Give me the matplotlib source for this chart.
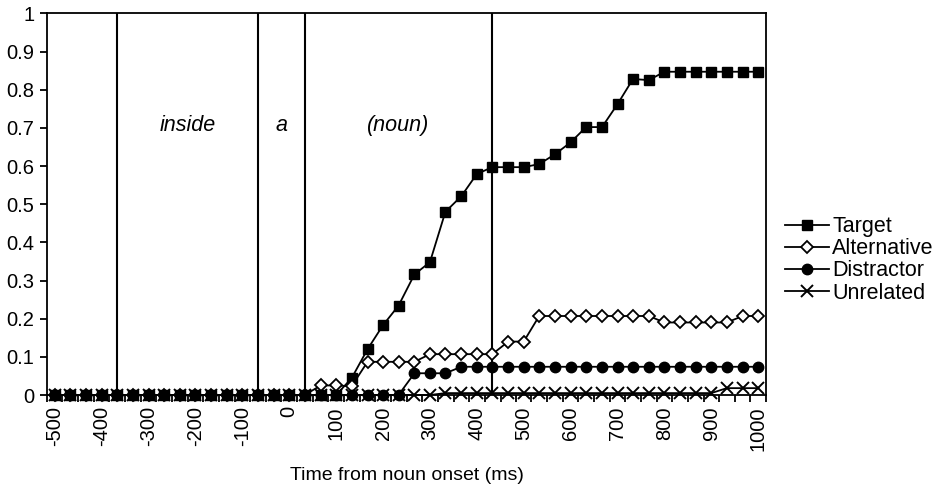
import matplotlib
matplotlib.use("Agg")
import matplotlib.pyplot as plt
import numpy as np

plt.rcParams['font.family'] = ['Liberation Sans', 'DejaVu Sans']

# %%
# time bins (ms from noun onset)
times = [-500, -467, -433, -400, -367, -333, -300, -267, -233, -200,
         -167, -133, -100, -67, -33, 0, 33, 67, 100, 133,
         167, 200, 233, 267, 300, 333, 367, 400, 433, 467,
         500, 533, 567, 600, 633, 667, 700, 733, 767, 800,
         833, 867, 900, 933, 967, 1000]

target = [0, 0, 0, 0, 0, 0, 0, 0, 0, 0,
          0, 0, 0, 0, 0, 0, 0, 0, 0, 0.044,
          0.12, 0.183, 0.234, 0.316, 0.348, 0.48, 0.521, 0.579, 0.597, 0.597,
          0.597, 0.605, 0.631, 0.662, 0.702, 0.702, 0.762, 0.828, 0.825, 0.847,
          0.847, 0.847, 0.847, 0.847, 0.847, 0.847]

alternative = [0, 0, 0, 0, 0, 0, 0, 0, 0, 0,
               0, 0, 0, 0, 0, 0, 0, 0.025, 0.025, 0.023,
               0.087, 0.087, 0.087, 0.087, 0.107, 0.107, 0.107, 0.107, 0.107, 0.14,
               0.14, 0.207, 0.207, 0.207, 0.207, 0.207, 0.207, 0.207, 0.207, 0.19,
               0.19, 0.19, 0.19, 0.19, 0.207, 0.207]

distractor = [0, 0, 0, 0, 0, 0, 0, 0, 0, 0,
              0, 0, 0, 0, 0, 0, 0, 0, 0, 0,
              0, 0, 0, 0.057, 0.057, 0.057, 0.074, 0.074, 0.074, 0.074,
              0.074, 0.074, 0.074, 0.074, 0.074, 0.074, 0.074, 0.074, 0.074, 0.074,
              0.074, 0.074, 0.074, 0.074, 0.074, 0.074]

unrelated = [0, 0, 0, 0, 0, 0, 0, 0, 0, 0,
             0, 0, 0, 0, 0, 0, 0, 0, 0, 0,
             0, 0, 0, 0, 0, 0.005, 0.005, 0.005, 0.005, 0.005,
             0.005, 0.005, 0.005, 0.005, 0.005, 0.005, 0.005, 0.005, 0.005, 0.005,
             0.005, 0.005, 0.005, 0.018, 0.018, 0.018]

# word boundaries and labels
word_bounds = [-367, -67, 33, 433]
words = ["inside", "a", "(noun)"]

xtick_vals = [-500, -400, -300, -200, -100, 0, 100, 200, 300, 400,
              500, 600, 700, 800, 900, 1000]

# %%
fig = plt.figure(figsize=(9.42, 4.96), dpi=100)
ax = fig.add_axes([0.0499, 0.2036, 0.7632, 0.7695])

step = times[1] - times[0]
ax.set_xlim(times[0] - step / 2, times[-1] + step / 2)
ax.set_ylim(0, 1)

for xb in word_bounds:
    ax.axvline(xb, color="black", lw=1.5, zorder=1)
for k, w in enumerate(words):
    xm = (word_bounds[k] + word_bounds[k + 1]) / 2
    ax.text(xm, 0.705, w, ha="center", va="center", fontsize=15.5,
            style="italic")

lk = dict(color="black", lw=1.3, clip_on=False, zorder=3)
ax.plot(times, target, marker="s", ms=7.5, mfc="black", mec="black",
        label="Target", **lk)
ax.plot(times, alternative, marker="D", ms=6.5, mfc="white", mec="black",
        mew=1.3, label="Alternative", **lk)
ax.plot(times, distractor, marker="o", ms=7.5, mfc="black", mec="black",
        label="Distractor", **lk)
ax.plot(times, unrelated, marker="x", ms=8.5, mec="black", mew=1.4,
        label="Unrelated", **lk)

ax.set_yticks(np.arange(0, 1.01, 0.1))
ax.set_yticklabels(["0", "0.1", "0.2", "0.3", "0.4", "0.5", "0.6", "0.7",
                    "0.8", "0.9", "1"])
ax.tick_params(axis="y", direction="out", length=5, width=1.3,
               labelsize=14.5, pad=4)

ax.set_xticks(xtick_vals)
ax.set_xticklabels([str(v) for v in xtick_vals], rotation=90)
bounds = [t - step / 2 for t in times] + [times[-1] + step / 2]
ax.set_xticks(bounds, minor=True)
ax.tick_params(axis="x", which="major", length=0, labelsize=14.5, pad=8)
ax.tick_params(axis="x", which="minor", direction="out", length=5, width=1.3)

for s in ax.spines.values():
    s.set_linewidth(1.3)

ax.set_xlabel("Time from noun onset (ms)", fontsize=14, labelpad=12)

ax.legend(loc="center left", bbox_to_anchor=(1 + 19 / 719, 0.354),
          frameon=False, fontsize=15.5, handlelength=2.05,
          handletextpad=0.15, labelspacing=0.05, borderpad=0,
          borderaxespad=0)

plt.savefig("out.png", dpi=100)
